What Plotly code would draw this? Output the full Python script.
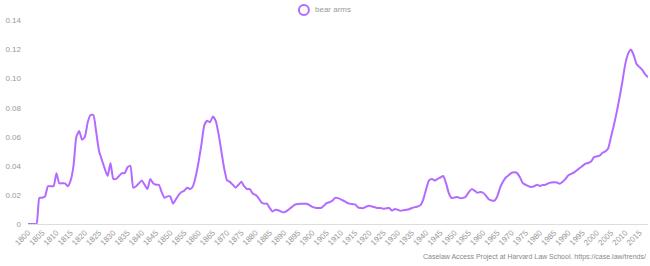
import plotly.graph_objects as go

years = list(range(1800, 2019))
values = [
    0, 0, 0, 0, 0.018, 0.018, 0.019, 0.026, 0.026, 0.026,            # 1800-1809
    0.035, 0.028, 0.028, 0.028, 0.026, 0.030, 0.040, 0.060, 0.064, 0.058,  # 1810-1819
    0.060, 0.070, 0.075, 0.075, 0.063, 0.050, 0.044, 0.038, 0.033, 0.042,  # 1820-1829
    0.031, 0.031, 0.033, 0.035, 0.035, 0.039, 0.040, 0.025, 0.026, 0.028,  # 1830-1839
    0.030, 0.027, 0.024, 0.031, 0.028, 0.027, 0.027, 0.022, 0.018, 0.019,  # 1840-1849
    0.019, 0.014, 0.017, 0.020, 0.022, 0.023, 0.025, 0.024, 0.026, 0.033,  # 1850-1859
    0.043, 0.055, 0.068, 0.071, 0.070, 0.074, 0.071, 0.062, 0.050, 0.038,  # 1860-1869
    0.030, 0.029, 0.027, 0.025, 0.027, 0.029, 0.026, 0.024, 0.024, 0.021,  # 1870-1879
    0.020, 0.018, 0.015, 0.014, 0.014, 0.011, 0.0086, 0.0098, 0.0095, 0.0085,  # 1880-1889
    0.008, 0.009, 0.0105, 0.012, 0.0135, 0.0138, 0.0139, 0.014, 0.0139, 0.013,  # 1890-1899
    0.0118, 0.0112, 0.011, 0.011, 0.0125, 0.0144, 0.015, 0.016, 0.018, 0.0178,  # 1900-1909
    0.017, 0.016, 0.0148, 0.014, 0.0137, 0.0135, 0.0115, 0.011, 0.011, 0.012,  # 1910-1919
    0.0125, 0.012, 0.0115, 0.011, 0.011, 0.0105, 0.0108, 0.011, 0.0092, 0.0103,  # 1920-1929
    0.0098, 0.0091, 0.0095, 0.0098, 0.0102, 0.011, 0.0116, 0.012, 0.013, 0.017,  # 1930-1939
    0.024, 0.030, 0.031, 0.030, 0.031, 0.032, 0.033, 0.028, 0.021, 0.0178,  # 1940-1949
    0.0183, 0.0185, 0.0178, 0.018, 0.019, 0.022, 0.024, 0.023, 0.0215, 0.022,  # 1950-1959
    0.0215, 0.0195, 0.017, 0.0162, 0.016, 0.019, 0.025, 0.029, 0.032, 0.0335,  # 1960-1969
    0.0352, 0.0356, 0.035, 0.032, 0.028, 0.027, 0.026, 0.0255, 0.026, 0.027,  # 1970-1979
    0.0262, 0.0268, 0.027, 0.028, 0.0285, 0.0287, 0.0285, 0.0277, 0.029, 0.031,  # 1980-1989
    0.0335, 0.0345, 0.0355, 0.037, 0.0385, 0.040, 0.0415, 0.042, 0.043, 0.046,  # 1990-1999
    0.0465, 0.047, 0.049, 0.050, 0.052, 0.060, 0.068, 0.077, 0.087, 0.098,  # 2000-2009
    0.110, 0.117, 0.120, 0.116, 0.110, 0.108, 0.106, 0.103, 0.101,        # 2010-2018
]
series_name = "bear arms"
x_ticks = list(range(1800, 2016, 5))
y_ticks = [0, 0.02, 0.04, 0.06, 0.08, 0.10, 0.12, 0.14]
y_tick_labels = ["0", "0.02", "0.04", "0.06", "0.08", "0.10", "0.12", "0.14"]
credit = "Caselaw Access Project at Harvard Law School. https://case.law/trends/"

PURPLE = "#b36bff"
GRAY = "#999999"
FONT = "Liberation Sans, Arial, sans-serif"

fig = go.Figure()
fig.add_trace(go.Scatter(
    x=years, y=values, mode="lines", name=series_name, showlegend=False,
    line=dict(color=PURPLE, width=2, shape="spline", smoothing=0.5),
    hoverinfo="skip",
))

# legend drawn as a circle symbol + label at the top centre
LEG_X, LEG_Y = 0.445, 0.982
fig.add_shape(
    type="circle", xref="paper", yref="paper",
    xsizemode="pixel", ysizemode="pixel",
    xanchor=LEG_X, yanchor=LEG_Y, x0=-5, x1=5, y0=-5, y1=5,
    line=dict(color=PURPLE, width=2), fillcolor="rgba(0,0,0,0)",
)

fig.update_layout(
    width=650, height=266,
    margin=dict(l=28, r=2, t=6, b=42),
    paper_bgcolor="white", plot_bgcolor="white",
    font=dict(family=FONT, size=8, color=GRAY),
    showlegend=False,
    xaxis=dict(
        range=[1800, 2018], tickmode="array", tickvals=x_ticks,
        ticktext=[str(v) for v in x_ticks], tickangle=-45,
        showgrid=False, zeroline=False, showline=True,
        linecolor="#dddddd", linewidth=1, ticks="",
        tickfont=dict(size=8, color=GRAY),
    ),
    yaxis=dict(
        range=[0, 0.15], tickmode="array", tickvals=y_ticks, ticktext=y_tick_labels,
        showgrid=False, zeroline=False, showline=False, ticks="",
        tickfont=dict(size=8, color=GRAY), ticklabelstandoff=6,
    ),
    annotations=[
        dict(
            text=series_name, showarrow=False,
            xref="paper", x=LEG_X + 0.0145, xanchor="left",
            yref="paper", y=LEG_Y, yanchor="middle",
            font=dict(size=8, color=GRAY),
        ),
        dict(
            text=credit, showarrow=False,
            xref="paper", x=1, xanchor="right",
            yref="paper", y=-0.15, yanchor="middle",
            font=dict(size=7, color="#888888"),
        ),
    ],
)

fig.write_html("out.html")
